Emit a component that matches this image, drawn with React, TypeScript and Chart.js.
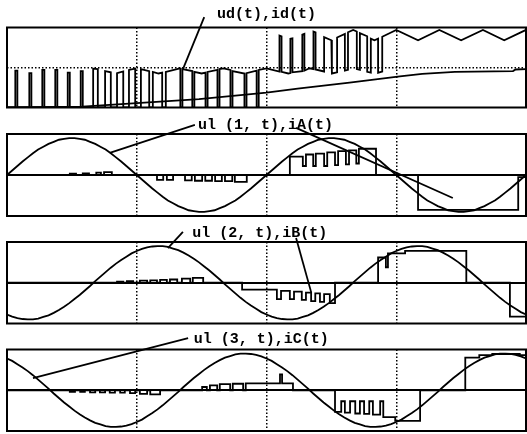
import React, { useEffect, useRef } from 'react';
import { Chart, registerables } from 'chart.js';

Chart.register(...registerables);

type Pair = [number, number];

// sample instants of the phase voltages (one sample per time unit)
const sampleTimes: number[] = Array.from({ length: 101 }, (_, i) => i);

const ul1Values = [
  0, 0.11, 0.22, 0.33, 0.43, 0.53, 0.62, 0.69, 0.76, 0.81, 0.86, 0.88, 0.9, 0.9, 0.88, 0.86, 0.81, 0.76, 0.69, 0.62, 0.53, 0.43, 0.33, 0.22, 0.11, 0,
  -0.11, -0.22, -0.33, -0.43, -0.53, -0.62, -0.69, -0.76, -0.81, -0.86, -0.88, -0.9, -0.9, -0.88, -0.86, -0.81, -0.76, -0.69, -0.62, -0.53, -0.43, -0.33, -0.22, -0.11, 0,
  0.11, 0.22, 0.33, 0.43, 0.53, 0.62, 0.69, 0.76, 0.81, 0.86, 0.88, 0.9, 0.9, 0.88, 0.86, 0.81, 0.76, 0.69, 0.62, 0.53, 0.43, 0.33, 0.22, 0.11, 0,
  -0.11, -0.22, -0.33, -0.43, -0.53, -0.62, -0.69, -0.76, -0.81, -0.86, -0.88, -0.9, -0.9, -0.88, -0.86, -0.81, -0.76, -0.69, -0.62, -0.53, -0.43, -0.33, -0.22, -0.11, 0,
];

const ul2Values = [
  -0.78, -0.83, -0.87, -0.89, -0.9, -0.9, -0.88, -0.84, -0.8, -0.74, -0.67, -0.59, -0.5, -0.4, -0.3, -0.19, -0.08, 0.04, 0.15, 0.26, 0.37, 0.47, 0.56, 0.64, 0.72,
  0.78, 0.83, 0.87, 0.89, 0.9, 0.9, 0.88, 0.84, 0.8, 0.74, 0.67, 0.59, 0.5, 0.4, 0.3, 0.19, 0.08, -0.04, -0.15, -0.26, -0.37, -0.47, -0.56, -0.64, -0.72,
  -0.78, -0.83, -0.87, -0.89, -0.9, -0.9, -0.88, -0.84, -0.8, -0.74, -0.67, -0.59, -0.5, -0.4, -0.3, -0.19, -0.08, 0.04, 0.15, 0.26, 0.37, 0.47, 0.56, 0.64, 0.72,
  0.78, 0.83, 0.87, 0.89, 0.9, 0.9, 0.88, 0.84, 0.8, 0.74, 0.67, 0.59, 0.5, 0.4, 0.3, 0.19, 0.08, -0.04, -0.15, -0.26, -0.37, -0.47, -0.56, -0.64, -0.72,
  -0.78,
];

const ul3Values = [
  0.78, 0.72, 0.64, 0.56, 0.47, 0.37, 0.26, 0.15, 0.04, -0.08, -0.19, -0.3, -0.4, -0.5, -0.59, -0.67, -0.74, -0.8, -0.84, -0.88, -0.9, -0.9, -0.89, -0.87, -0.83,
  -0.78, -0.72, -0.64, -0.56, -0.47, -0.37, -0.26, -0.15, -0.04, 0.08, 0.19, 0.3, 0.4, 0.5, 0.59, 0.67, 0.74, 0.8, 0.84, 0.88, 0.9, 0.9, 0.89, 0.87, 0.83,
  0.78, 0.72, 0.64, 0.56, 0.47, 0.37, 0.26, 0.15, 0.04, -0.08, -0.19, -0.3, -0.4, -0.5, -0.59, -0.67, -0.74, -0.8, -0.84, -0.88, -0.9, -0.9, -0.89, -0.87, -0.83,
  -0.78, -0.72, -0.64, -0.56, -0.47, -0.37, -0.26, -0.15, -0.04, 0.08, 0.19, 0.3, 0.4, 0.5, 0.59, 0.67, 0.74, 0.8, 0.84, 0.88, 0.9, 0.9, 0.89, 0.87, 0.83,
  0.78,
];

// ud(t): vertices [time, value] of the switched DC voltage
const udTrace: Pair[] = [
  [0, 0],
  [1.6, 0], [1.6, 0.92], [2.0, 0.92], [2.0, 0],
  [4.3, 0], [4.3, 0.86], [4.7, 0.86], [4.7, 0],
  [6.8, 0], [6.8, 0.94], [7.2, 0.94], [7.2, 0],
  [9.3, 0], [9.3, 0.94], [9.7, 0.94], [9.7, 0],
  [11.7, 0], [11.7, 0.87], [12.1, 0.87], [12.1, 0],
  [14.2, 0], [14.2, 0.91], [14.6, 0.91], [14.6, 0],
  [16.6, 0], [16.6, 0.97], [17.5, 0.96], [17.5, 0],
  [18.9, 0], [18.9, 0.91], [20.0, 0.88], [20.0, 0],
  [21.2, 0], [21.2, 0.86], [22.4, 0.9], [22.4, 0],
  [23.5, 0], [23.5, 0.94], [24.7, 0.97], [24.7, 0],
  [25.8, 0], [25.8, 0.96], [27.4, 0.91], [27.4, 0],
  [28.1, 0], [28.1, 0.89], [29.2, 0.85], [29.9, 0.87], [29.9, 0],
  [30.6, 0], [30.6, 0.89], [33.3, 0.98], [33.4, 0.98], [33.4, 0],
  [33.8, 0], [33.8, 0.96], [35.7, 0.91], [35.7, 0],
  [36.1, 0], [36.1, 0.89], [37.5, 0.85], [38.25, 0.87], [38.25, 0],
  [38.65, 0], [38.65, 0.89], [40.55, 0.94], [40.55, 0],
  [40.95, 0], [40.95, 0.96], [41.7, 0.98], [43.05, 0.94], [43.05, 0],
  [43.45, 0], [43.45, 0.91], [45.75, 0.85], [45.75, 0],
  [46.15, 0], [46.15, 0.86], [48.1, 0.92], [48.1, 0],
  [48.5, 0], [48.5, 0.94], [50, 0.98],
  [52.5, 0.9], [52.5, 1.8], [52.9, 1.78], [52.9, 0.89],
  [54.2, 0.85],
  [54.6, 0.86], [54.6, 1.72], [55.0, 1.73], [55.0, 0.88],
  [56.9, 0.91], [56.9, 1.82], [57.3, 1.84], [57.3, 0.92],
  [58.3, 0.98],
  [59.05, 0.96], [59.05, 1.9], [59.45, 1.88], [59.45, 0.95],
  [61.1, 0.9], [61.1, 1.76], [62.5, 1.68], [62.6, 1.69], [62.6, 0.85],
  [63.6, 0.88], [63.6, 1.75], [65.1, 1.84], [65.1, 0.92],
  [65.7, 0.94], [65.7, 1.88], [66.7, 1.94], [67.4, 1.9], [67.4, 0.96],
  [68.0, 0.94], [68.0, 1.86], [69.4, 1.78], [69.4, 0.89],
  [70.1, 0.87], [70.1, 1.72], [70.8, 1.68], [71.5, 1.72], [71.5, 0.87],
  [72.3, 0.9], [72.3, 1.77], [75, 1.94], [79.2, 1.68], [83.3, 1.94], [87.5, 1.68], [91.7, 1.94], [95.8, 1.68], [100, 1.94],
];

// id(t): DC current
const idTrace: Pair[] = [
  [0, 0], [14.5, 0.02], [25, 0.11], [37, 0.21], [50, 0.37], [56, 0.47], [66, 0.62], [75.7, 0.78], [80, 0.84], [86.3, 0.89], [97.5, 0.91], [98, 0.95], [100, 0.96],
];

// phase currents: [time of change, new value] (held until next change)
const iATrace: Pair[] = [
  [0, 0],
  [12.1, 0.03], [13.3, 0], [14.6, 0.04], [15.8, 0], [17.2, 0.06], [18.1, 0], [18.7, 0.07], [20.2, 0],
  [28.9, -0.12], [30.1, 0], [30.8, -0.12], [32.0, 0], [34.3, -0.13], [35.6, 0], [36.2, -0.14], [37.6, 0],
  [38.2, -0.14], [39.5, 0], [40.1, -0.15], [41.4, 0], [42.0, -0.15], [43.4, 0], [43.9, -0.17], [46.2, 0],
  [54.5, 0.45], [57.0, 0.22], [57.6, 0.5], [59.0, 0.22], [59.5, 0.52], [61.1, 0.22], [61.7, 0.55], [63.2, 0.24],
  [63.8, 0.58], [65.3, 0.26], [65.9, 0.6], [67.3, 0.28], [67.8, 0.64],
  [71.1, 0], [79.2, -0.85], [98.5, -0.05], [100, -0.05],
];

const iBTrace: Pair[] = [
  [0, 0],
  [21.2, 0.03], [22.4, 0], [23.1, 0.04], [24.3, 0], [25.6, 0.05], [27.0, 0], [27.6, 0.06], [28.9, 0],
  [29.5, 0.07], [30.8, 0], [31.4, 0.08], [32.8, 0], [33.7, 0.1], [35.3, 0], [35.8, 0.12], [37.8, 0],
  [45.3, -0.17],
  [52.0, -0.4], [52.8, -0.2], [54.5, -0.4], [55.3, -0.22], [56.8, -0.42], [57.6, -0.24], [58.6, -0.45],
  [59.4, -0.26], [60.3, -0.47], [61.1, -0.28], [62.2, -0.5],
  [63.2, 0], [71.5, 0.62], [73.0, 0.38], [73.4, 0.72], [76.7, 0.78], [88.5, 0], [96.9, -0.83], [100, -0.83],
];

const iCTrace: Pair[] = [
  [0, 0],
  [12.1, -0.04], [13.1, 0], [14.1, -0.04], [15.0, 0], [16.0, -0.05], [17.0, 0], [17.9, -0.05], [18.9, 0],
  [19.8, -0.06], [20.8, 0], [21.8, -0.06], [22.7, 0], [23.7, -0.07], [24.7, 0], [25.6, -0.09], [27.0, 0],
  [27.6, -0.1], [29.5, 0],
  [37.6, 0.08], [38.5, 0], [39.1, 0.12], [40.5, 0], [41.0, 0.15], [43.0, 0], [43.5, 0.16], [45.5, 0],
  [46.0, 0.17], [52.6, 0.39], [53.0, 0.17], [55.1, 0],
  [63.2, -0.53], [64.4, -0.27], [65.1, -0.55], [66.1, -0.27], [67.1, -0.57], [68.0, -0.27], [68.8, -0.58],
  [69.8, -0.27], [70.5, -0.6], [71.9, -0.27], [72.5, -0.66], [74.8, -0.75],
  [79.6, 0], [88.3, 0.8], [91, 0.86], [93.5, 0.89], [98.8, 0.86], [100, 0.86],
];

const panelTitles = ['ud(t),id(t)', 'ul (1, t),iA(t)', 'ul (2, t),iB(t)', 'ul (3, t),iC(t)'];
const titleAnchors: Pair[] = [[50, 2.34], [49.8, 1.22], [48.7, 1.21], [49, 1.26]];
const yRanges: Pair[] = [[0, 2], [-1, 1], [-1, 1], [-1, 1]];
const xRange: Pair = [0, 100];
const xGridStep = 25;
// [panel, from (data coords), to (data coords)]
const leaderLines: [number, Pair, Pair][] = [
  [0, [38.0, 2.26], [33.9, 0.96]],
  [1, [36.2, 1.22], [19.8, 0.54]],
  [1, [55.7, 1.15], [85.9, -0.56]],
  [2, [33.9, 1.25], [31.0, 0.85]],
  [2, [55.7, 1.1], [58.6, -0.23]],
  [3, [34.9, 1.28], [5.0, 0.3]],
];

type SeriesSpec = { pts: Pair[]; stepped: boolean | 'before' };

const zip = (xs: number[], ys: number[]): Pair[] => ys.map((y, i) => [xs[i], y]);

const panelSeries: SeriesSpec[][] = [
  [{ pts: udTrace, stepped: false }, { pts: idTrace, stepped: false }],
  [{ pts: zip(sampleTimes, ul1Values), stepped: false }, { pts: iATrace, stepped: 'before' }],
  [{ pts: zip(sampleTimes, ul2Values), stepped: false }, { pts: iBTrace, stepped: 'before' }],
  [{ pts: zip(sampleTimes, ul3Values), stepped: false }, { pts: iCTrace, stepped: 'before' }],
];

// layout of the four stacked canvases (page pixels)
const panelBoxes = [
  { top: 0, height: 110, padTop: 27.5, padBottom: 2.5 },
  { top: 110, height: 110, padTop: 24, padBottom: 4 },
  { top: 220, height: 107, padTop: 22, padBottom: 3.5 },
  { top: 327, height: 107, padTop: 22.5, padBottom: 3 },
];

const DOT: number[] = [1.5, 2];

function Panel({ index }: { index: number }) {
  const ref = useRef<HTMLCanvasElement>(null);
  const box = panelBoxes[index];

  useEffect(() => {
    const canvas = ref.current;
    if (!canvas) return;
    const [ymin, ymax] = yRanges[index];
    const zeroSolid = index > 0;

    const overlay = {
      id: 'scopeOverlay',
      afterDraw(chart: any) {
        const { ctx, chartArea: a, scales } = chart;
        const xs = scales.x;
        const ys = scales.y;
        ctx.save();
        ctx.strokeStyle = '#000';
        ctx.lineWidth = 2;
        ctx.setLineDash([]);
        ctx.strokeRect(a.left, a.top, a.right - a.left, a.bottom - a.top);
        ctx.lineWidth = 1.8;
        leaderLines
          .filter((l) => l[0] === index)
          .forEach(([, s, e]) => {
            ctx.beginPath();
            ctx.moveTo(xs.getPixelForValue(s[0]), ys.getPixelForValue(s[1]));
            ctx.lineTo(xs.getPixelForValue(e[0]), ys.getPixelForValue(e[1]));
            ctx.stroke();
          });
        ctx.fillStyle = '#000';
        ctx.font = 'bold 15px "Liberation Mono"';
        ctx.textAlign = 'center';
        ctx.textBaseline = 'middle';
        const [tx, ty] = titleAnchors[index];
        ctx.fillText(panelTitles[index], xs.getPixelForValue(tx), ys.getPixelForValue(ty));
        ctx.restore();
      },
    };

    const chart = new Chart(canvas, {
      type: 'line',
      data: {
        datasets: panelSeries[index].map((s) => ({
          data: s.pts.map(([x, y]) => ({ x, y })),
          borderColor: '#000',
          borderWidth: 1.8,
          pointRadius: 0,
          tension: 0,
          fill: false,
          stepped: s.stepped,
        })),
      },
      options: {
        animation: false,
        responsive: false,
        maintainAspectRatio: false,
        events: [],
        layout: { padding: { left: 7, right: 1, top: box.padTop, bottom: box.padBottom } },
        plugins: { legend: { display: false }, tooltip: { enabled: false }, title: { display: false } },
        scales: {
          x: {
            type: 'linear',
            min: xRange[0],
            max: xRange[1],
            ticks: { display: false, stepSize: xGridStep },
            grid: {
              drawTicks: false,
              lineWidth: 1.5,
              color: (c: any) =>
                c.tick && (c.tick.value <= xRange[0] || c.tick.value >= xRange[1]) ? 'rgba(0,0,0,0)' : '#000',
            },
            border: { display: false, dash: DOT },
            afterFit: (s: any) => {
              s.height = 0;
            },
          },
          y: {
            type: 'linear',
            min: ymin,
            max: ymax,
            ticks: { display: false, stepSize: 1 },
            grid: {
              drawTicks: false,
              lineWidth: (c: any) => (zeroSolid && c.tick && c.tick.value === 0 ? 2 : 1.5),
              color: (c: any) =>
                c.tick && (c.tick.value <= ymin || c.tick.value >= ymax) ? 'rgba(0,0,0,0)' : '#000',
            },
            border: {
              display: false,
              dash: (c: any) => (zeroSolid && c.tick && c.tick.value === 0 ? [] : DOT),
            },
            afterFit: (s: any) => {
              s.width = 0;
            },
          },
        },
      } as any,
      plugins: [overlay],
    });
    return () => chart.destroy();
  }, [index]);

  return (
    <canvas
      ref={ref}
      width={527}
      height={box.height}
      style={{ position: 'absolute', left: 0, top: box.top, width: 527, height: box.height }}
    />
  );
}

export default function App() {
  return (
    <div style={{ position: 'absolute', left: 0, top: 0, width: 527, height: 434, background: '#fff', overflow: 'hidden' }}>
      {panelSeries.map((_, i) => (
        <Panel key={i} index={i} />
      ))}
    </div>
  );
}
